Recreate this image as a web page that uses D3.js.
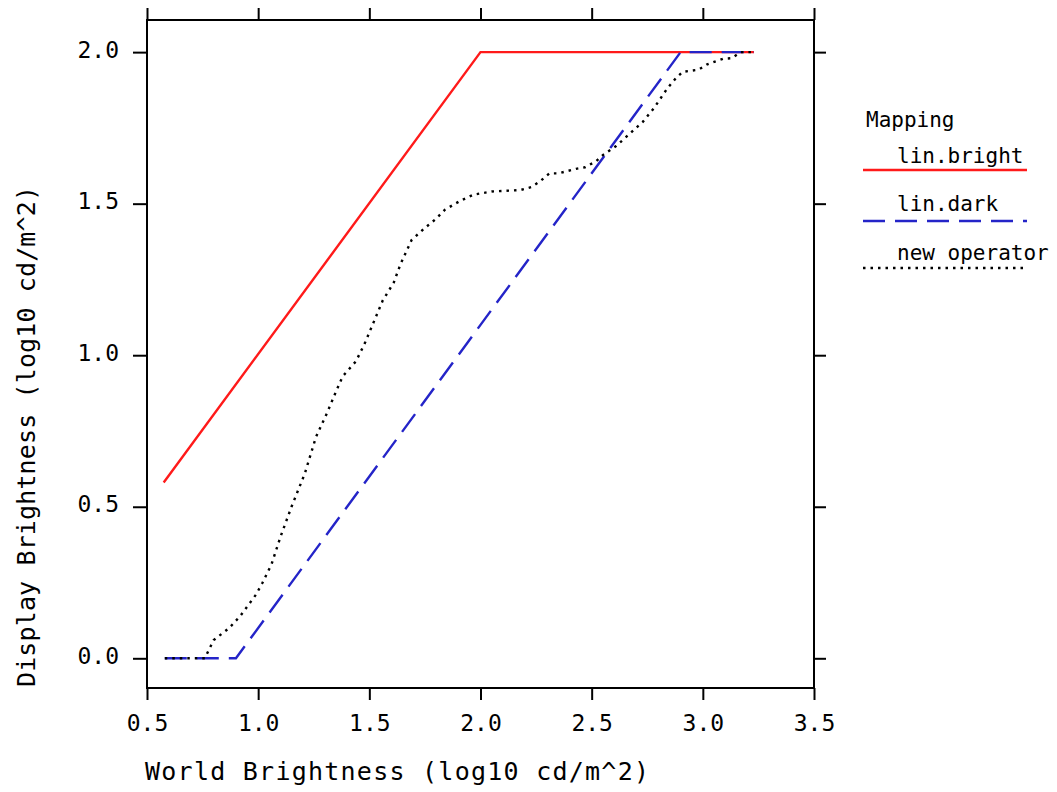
<!DOCTYPE html>
<html><head><meta charset="utf-8">
<script src="https://cdn.jsdelivr.net/npm/d3@7"></script>
<style>
body{margin:0;background:#fff}
svg{display:block}
text{font-family:"DejaVu Sans Mono","Liberation Mono",monospace;fill:#000}
</style>
</head><body>
<svg id="c" width="1057" height="792"></svg>
<script>
// ---- data ----
const xTickValues = [0.5, 1.0, 1.5, 2.0, 2.5, 3.0, 3.5];
const yTickValues = [0.0, 0.5, 1.0, 1.5, 2.0];
const xTitle = "World Brightness (log10 cd/m^2)";
const yTitle = "Display Brightness (log10 cd/m^2)";
const legendTitle = "Mapping";
const seriesNames = ["lin.bright", "lin.dark", "new operator"];

const brightX = [0.575, 2.0, 3.23];
const brightY = [0.58, 2.0, 2.0];

const darkX = [0.58, 0.90, 2.90, 3.23];
const darkY = [0.0, 0.0, 2.0, 2.0];

const newOpX = [0.58, 0.76, 0.80, 0.87, 0.92, 0.95, 0.99, 1.02, 1.06, 1.10, 1.15, 1.21, 1.26, 1.31, 1.35, 1.38,
  1.44, 1.48, 1.52, 1.56, 1.61, 1.64, 1.69, 1.75, 1.80, 1.84, 1.91, 1.97, 2.05, 2.18, 2.23, 2.27, 2.31, 2.35,
  2.43, 2.47, 2.52, 2.55, 2.61, 2.67, 2.73, 2.78, 2.84, 2.88, 2.91, 2.98, 3.02, 3.09, 3.13, 3.17, 3.23];
const newOpY = [0.0, 0.0, 0.06, 0.10, 0.14, 0.17, 0.21, 0.25, 0.31, 0.40, 0.50, 0.61, 0.73, 0.81, 0.88, 0.93,
  0.98, 1.04, 1.11, 1.18, 1.24, 1.30, 1.38, 1.42, 1.45, 1.48, 1.51, 1.53, 1.54, 1.545, 1.555, 1.575, 1.60, 1.60,
  1.615, 1.62, 1.64, 1.66, 1.69, 1.73, 1.77, 1.815, 1.88, 1.915, 1.935, 1.942, 1.96, 1.978, 1.98, 2.0, 2.0];

// ---- layout ----
const svg = d3.select("#c");
const L = 147, R = 814, T = 20, B = 688;
const x = d3.scaleLinear().domain([0.5, 3.5]).range([L, R]);
const y = d3.scaleLinear().domain([-0.098, 2.106]).range([B, T]);
const fmt = d3.format(".1f");

function styleAxis(g) {
  g.select(".domain").remove();
  g.selectAll(".tick line").attr("stroke", "#000").attr("stroke-width", 2);
  g.selectAll("text").style("font-size", "23px").attr("fill", "#000");
}

const gB = svg.append("g").attr("transform", `translate(0,${B})`)
  .call(d3.axisBottom(x).tickValues(xTickValues).tickSize(12).tickSizeOuter(0).tickFormat(fmt));
styleAxis(gB);
gB.selectAll("text").attr("y", 43).attr("dy", 0);

const gT = svg.append("g").attr("transform", `translate(0,${T})`)
  .call(d3.axisTop(x).tickValues(xTickValues).tickSize(12).tickSizeOuter(0).tickFormat(""));
styleAxis(gT);

const gL = svg.append("g").attr("transform", `translate(${L},0)`)
  .call(d3.axisLeft(y).tickValues(yTickValues).tickSize(14).tickSizeOuter(0).tickFormat(fmt));
styleAxis(gL);
gL.selectAll("text").attr("x", -28).attr("dy", 0).attr("y", 5);

const gR = svg.append("g").attr("transform", `translate(${R},0)`)
  .call(d3.axisRight(y).tickValues(yTickValues).tickSize(12).tickSizeOuter(0).tickFormat(""));
styleAxis(gR);

// frame
svg.append("rect").attr("x", L).attr("y", T).attr("width", R - L).attr("height", B - T)
  .attr("fill", "none").attr("stroke", "#000").attr("stroke-width", 2);

// ---- series ----
const line = d3.line().x(d => x(d[0])).y(d => y(d[1]));
const zip = (a, b) => a.map((v, i) => [v, b[i]]);

const styles = [
  {color: "#ff1a1a", dash: null, width: 2.4},
  {color: "#2424c8", dash: "22,10", width: 2.4},
  {color: "#000", dash: "2.5,5", width: 2.4}
];
const seriesData = [zip(brightX, brightY), zip(darkX, darkY), zip(newOpX, newOpY)];

seriesData.forEach((d, i) => {
  svg.append("path").datum(d).attr("d", line)
    .attr("fill", "none").attr("stroke", styles[i].color)
    .attr("stroke-width", styles[i].width)
    .attr("stroke-dasharray", styles[i].dash);
});

// ---- titles ----
svg.append("text").attr("x", 145).attr("y", 780)
  .attr("textLength", 504).attr("lengthAdjust", "spacing")
  .style("font-size", "25px").text(xTitle);

svg.append("text").attr("transform", "translate(35,687) rotate(-90)")
  .attr("textLength", 501).attr("lengthAdjust", "spacing")
  .style("font-size", "25px").text(yTitle);

// ---- legend ----
const lg = svg.append("g");
lg.append("text").attr("x", 866).attr("y", 127).style("font-size", "21px").text(legendTitle);
const legTextY = [163, 211, 260];
const legLineY = [170, 221, 268];
seriesNames.forEach((n, i) => {
  lg.append("text").attr("x", 897).attr("y", legTextY[i]).style("font-size", "21px").text(n);
  lg.append("line").attr("x1", 863).attr("x2", 1027).attr("y1", legLineY[i]).attr("y2", legLineY[i])
    .attr("stroke", styles[i].color).attr("stroke-width", styles[i].width)
    .attr("stroke-dasharray", styles[i].dash);
});
</script>
</body></html>
